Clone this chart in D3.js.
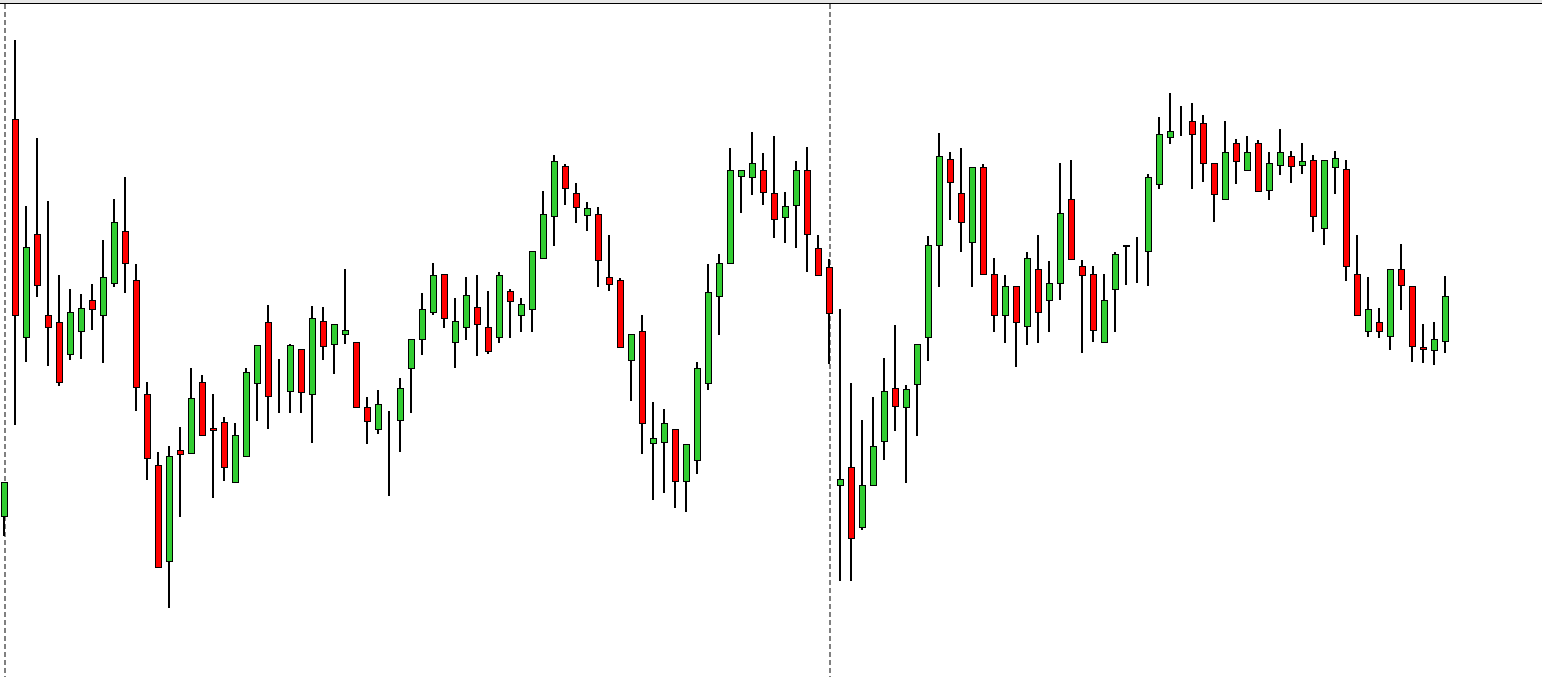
<!DOCTYPE html>
<meta charset="utf-8">
<style>
    body { margin: 0; background: #fff; overflow: hidden; }
    svg { display: block; }
</style>
<svg width="1542" height="677"></svg>
<script src="https://d3js.org/d3.v7.min.js"></script>
<script>
    // OHLC per bar
    var opens = [1.1484,1.1881,1.1663,1.1766,1.1685,1.1678,1.1646,1.1669,1.1700,1.1685,1.1717,1.1769,1.1720,1.1606,1.1535,1.1439,1.1550,1.1547,
        1.1618,1.1572,1.1578,1.1518,1.1544,1.1617,1.1678,1.1610,1.1609,1.1651,1.1606,1.1679,1.1656,1.1666,1.1658,1.1593,1.1571,1.1579,
        1.1580,1.1632,1.1661,1.1688,1.1726,1.1658,1.1673,1.1693,1.1673,1.1663,1.1709,1.1685,1.1691,1.1742,1.1784,1.1834,1.1807,1.1785,
        1.1786,1.1723,1.1720,1.1640,1.1669,1.1557,1.1558,1.1571,1.1519,1.1540,1.1617,1.1704,1.1737,1.1824,1.1823,1.1830,1.1807,1.1783,
        1.1795,1.1830,1.1752,1.1733,1.1515,1.1533,1.1473,1.1515,1.1559,1.1612,1.1593,1.1616,1.1663,1.1755,1.1841,1.1807,1.1758,1.1833,
        1.1726,1.1685,1.1714,1.1674,1.1731,1.1700,1.1717,1.1801,1.1734,1.1726,1.1658,1.1711,1.1754,1.1746,1.1749,1.1816,1.1863,1.1878,
        1.1879,1.1877,1.1837,1.1801,1.1857,1.1830,1.1857,1.1810,1.1835,1.1844,1.1835,1.1840,1.1772,1.1833,1.1831,1.1726,1.1669,1.1678,
        1.1664,1.1731,1.1714,1.1653,1.1650,1.1659];
    var highs = [1.1518,1.1960,1.1794,1.1862,1.1799,1.1725,1.1711,1.1706,1.1716,1.1760,1.1801,1.1823,1.1736,1.1618,1.1548,1.1554,1.1573,1.1632,
        1.1625,1.1606,1.1583,1.1577,1.1632,1.1655,1.1695,1.1641,1.1656,1.1651,1.1694,1.1693,1.1676,1.1731,1.1658,1.1603,1.1610,1.1589,
        1.1622,1.1661,1.1707,1.1737,1.1726,1.1702,1.1723,1.1725,1.1709,1.1728,1.1711,1.1702,1.1749,1.1809,1.1845,1.1836,1.1817,1.1798,
        1.1793,1.1765,1.1722,1.1666,1.1685,1.1598,1.1591,1.1571,1.1556,1.1638,1.1736,1.1746,1.1852,1.1830,1.1868,1.1847,1.1864,1.1808,
        1.1839,1.1853,1.1765,1.1741,1.1691,1.1617,1.1580,1.1603,1.1642,1.1675,1.1615,1.1656,1.1764,1.1867,1.1848,1.1852,1.1833,1.1836,
        1.1742,1.1725,1.1714,1.1748,1.1765,1.1739,1.1837,1.1840,1.1740,1.1734,1.1726,1.1748,1.1755,1.1763,1.1826,1.1883,1.1907,1.1894,
        1.1897,1.1885,1.1837,1.1879,1.1861,1.1864,1.1860,1.1848,1.1871,1.1849,1.1857,1.1845,1.1840,1.1849,1.1840,1.1765,1.1723,1.1692,
        1.1731,1.1756,1.1714,1.1676,1.1678,1.1724];
    var lows = [1.1464,1.1575,1.1638,1.1703,1.1634,1.1614,1.1640,1.1641,1.1670,1.1637,1.1713,1.1707,1.1589,1.1520,1.1433,1.1392,1.1483,1.1547,
        1.1565,1.1502,1.1519,1.1518,1.1544,1.1579,1.1571,1.1587,1.1587,1.1587,1.1557,1.1640,1.1626,1.1656,1.1593,1.1556,1.1566,1.1504,
        1.1548,1.1587,1.1645,1.1685,1.1672,1.1632,1.1660,1.1644,1.1646,1.1657,1.1662,1.1668,1.1668,1.1742,1.1754,1.1795,1.1777,1.1769,
        1.1713,1.1709,1.1653,1.1599,1.1546,1.1500,1.1507,1.1492,1.1488,1.1526,1.1610,1.1665,1.1737,1.1787,1.1805,1.1795,1.1762,1.1757,
        1.1752,1.1728,1.1725,1.1636,1.1419,1.1419,1.1470,1.1515,1.1540,1.1569,1.1517,1.1564,1.1639,1.1713,1.1780,1.1748,1.1713,1.1726,
        1.1668,1.1657,1.1633,1.1655,1.1657,1.1668,1.1700,1.1741,1.1647,1.1658,1.1658,1.1668,1.1715,1.1717,1.1714,1.1811,1.1856,1.1864,
        1.1811,1.1818,1.1778,1.1801,1.1816,1.1829,1.1808,1.1800,1.1825,1.1817,1.1826,1.1768,1.1755,1.1806,1.1719,1.1684,1.1663,1.1662,
        1.1650,1.1690,1.1638,1.1637,1.1635,1.1647];
    var closes = [1.1518,1.1685,1.1753,1.1715,1.1673,1.1618,1.1688,1.1692,1.1691,1.1723,1.1778,1.1737,1.1613,1.1542,1.1433,1.1544,1.1546,1.1602,
        1.1565,1.1570,1.1533,1.1565,1.1628,1.1655,1.1604,1.1610,1.1655,1.1608,1.1682,1.1654,1.1676,1.1670,1.1593,1.1579,1.1596,1.1579,
        1.1612,1.1661,1.1691,1.1725,1.1682,1.1679,1.1705,1.1676,1.1649,1.1725,1.1699,1.1696,1.1749,1.1786,1.1839,1.1812,1.1793,1.1792,
        1.1740,1.1716,1.1653,1.1666,1.1577,1.1562,1.1577,1.1519,1.1556,1.1632,1.1708,1.1737,1.1830,1.1830,1.1837,1.1808,1.1781,1.1794,
        1.1830,1.1766,1.1725,1.1687,1.1521,1.1462,1.1515,1.1554,1.1609,1.1594,1.1611,1.1656,1.1755,1.1844,1.1818,1.1778,1.1833,1.1726,
        1.1685,1.1714,1.1678,1.1742,1.1688,1.1717,1.1787,1.1741,1.1725,1.1670,1.1700,1.1746,1.1755,1.1746,1.1823,1.1866,1.1869,1.1878,
        1.1866,1.1837,1.1806,1.1848,1.1839,1.1848,1.1809,1.1837,1.1848,1.1834,1.1839,1.1784,1.1840,1.1842,1.1734,1.1685,1.1691,1.1669,
        1.1731,1.1715,1.1654,1.1651,1.1661,1.1704];
    // bars where a period separator is drawn
    var separators = [0, 75];

    var bars = opens.map(function(o, i) {
        return {i: i, o: o, h: highs[i], l: lows[i], c: closes[i]};
    });

    var svg = d3.select("svg"),
            width = +svg.attr("width"),
            height = +svg.attr("height");

    var x = d3.scaleLinear().domain([0, bars.length - 1]).range([4, 1445]);
    var y = d3.scaleLinear().domain([1.2000, 1.1323]).range([0, height]);

    // top frame
    svg.append("rect").attr("x", 0).attr("y", 0).attr("width", width).attr("height", 3).attr("fill", "#e6e6e6");
    svg.append("line").attr("x1", 0).attr("x2", width).attr("y1", 3.5).attr("y2", 3.5)
            .attr("stroke", "#000").attr("stroke-width", 1);

    svg.selectAll(".sep")
            .data(separators)
            .enter().append("line")
            .attr("class", "sep")
            .attr("x1", function(d) { return x(d) + 1; })
            .attr("x2", function(d) { return x(d) + 1; })
            .attr("y1", 4)
            .attr("y2", height)
            .attr("stroke", "#808080")
            .attr("stroke-width", 2)
            .attr("stroke-dasharray", "5,3");

    var g = svg.selectAll(".bar")
            .data(bars)
            .enter().append("g")
            .attr("class", "bar");

    g.append("rect")
            .attr("x", function(d) { return x(d.i) - 1; })
            .attr("width", 2)
            .attr("y", function(d) { return Math.round(y(d.h)); })
            .attr("height", function(d) { return Math.max(1, Math.round(y(d.l)) - Math.round(y(d.h))); })
            .attr("fill", "#000");

    g.append("rect")
            .attr("x", function(d) { return x(d.i) - 2.5; })
            .attr("width", 6)
            .attr("y", function(d) { return Math.round(y(Math.max(d.o, d.c))) + 0.5; })
            .attr("height", function(d) { return Math.round(y(Math.min(d.o, d.c))) - Math.round(y(Math.max(d.o, d.c))); })
            .attr("fill", function(d) { return d.c >= d.o ? "#32cd32" : "#ff0000"; })
            .attr("stroke", "#000")
            .attr("stroke-width", 1);
</script>
